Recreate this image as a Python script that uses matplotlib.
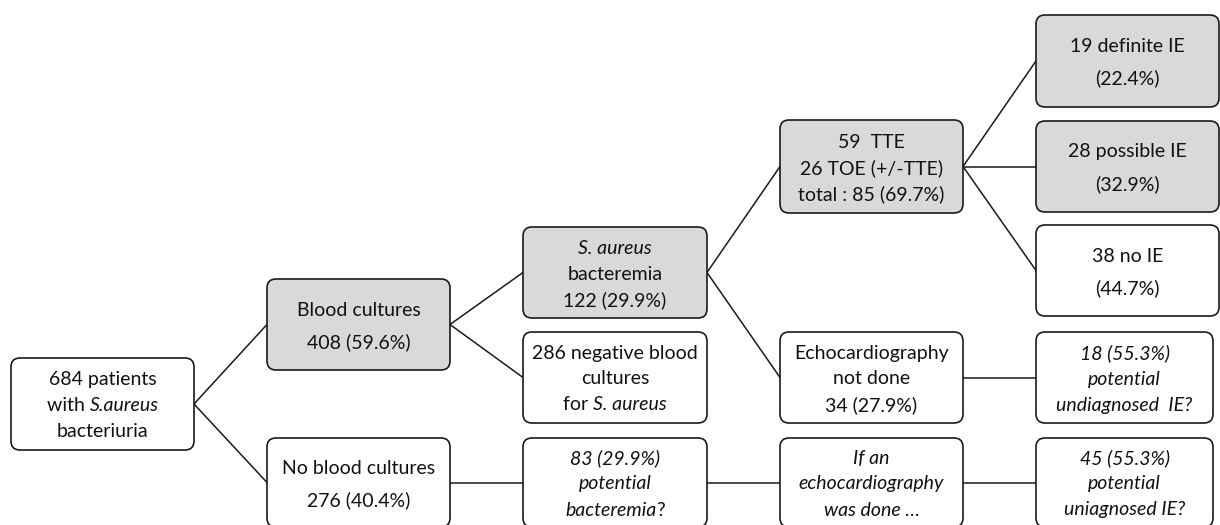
"""S. aureus bacteriuria patient flowchart (boxes + connecting lines)."""

import matplotlib

matplotlib.use("Agg")
import matplotlib.pyplot as plt
from matplotlib.patches import FancyBboxPatch

# Box texts; *...* marks italic pieces.
NODE_LINES = [
    ["684 patients", "with *S.aureus*", "bacteriuria"],
    ["Blood cultures", "408 (59.6%)"],
    ["No blood cultures", "276 (40.4%)"],
    ["*S. aureus*", "bacteremia", "122 (29.9%)"],
    ["286 negative blood", "cultures", "for *S. aureus*"],
    ["*83 (29.9%)*", "*potential*", "*bacteremia*?"],
    ["59  TTE", "26 TOE (+/-TTE)", "total : 85 (69.7%)"],
    ["Echocardiography", "not done", "34 (27.9%)"],
    ["*If an*", "*echocardiography*", "*was done …*"],
    ["19 definite IE", "(22.4%)"],
    ["28 possible IE", "(32.9%)"],
    ["38 no IE", "(44.7%)"],
    ["*18 (55.3%)*", "*potential*", "*undiagnosed  IE?*"],
    ["*45 (55.3%)*", "*potential*", "*uniagnosed IE?*"],
]
# Shaded boxes (gray fill).
NODE_SHADED = [False, True, False, True, False, False, True,
               False, False, True, True, False, False, False]
# Edges (from node, to node).
EDGES = [(0, 1), (0, 2), (1, 3), (1, 4), (2, 5), (3, 6), (3, 7),
         (5, 8), (6, 9), (6, 10), (6, 11), (7, 12), (8, 13)]

# Layout in pixels: (x0, y0, x1, y1), y downwards.
NODE_BOXES = [
    (11, 358, 194, 450),
    (267, 279, 450, 370),
    (267, 438, 450, 527),
    (523, 227, 707, 318),
    (523, 332, 707, 423),
    (523, 438, 707, 527),
    (780, 120, 963, 213),
    (780, 332, 963, 423),
    (780, 438, 963, 527),
    (1036, 15, 1219, 107),
    (1036, 121, 1219, 212),
    (1036, 225, 1219, 316),
    (1036, 332, 1213, 423),
    (1036, 438, 1213, 527),
]

FONT = "Lato"
FONT_SIZE = 14
TEXT_COLOR = "#111111"
EDGE_COLOR = "#1a1a1a"
FILL_GRAY = "#d9d9d9"


def split_styled(line):
    """'with *S.aureus*' -> [('with ', False), ('S.aureus', True)]"""
    parts = line.split("*")
    return [(p, i % 2 == 1) for i, p in enumerate(parts) if p]


def text_width(ax, renderer, s, italic):
    # 前后空格的宽度单独算。
    t = ax.text(0, 0, "x" + s + "x", fontsize=FONT_SIZE, family=FONT,
                style="italic" if italic else "normal")
    w = t.get_window_extent(renderer).width
    t.remove()
    t = ax.text(0, 0, "xx", fontsize=FONT_SIZE, family=FONT,
                style="italic" if italic else "normal")
    w -= t.get_window_extent(renderer).width
    t.remove()
    return w


def draw_line(ax, renderer, cx, cy, line):
    segs = split_styled(line)
    widths = [text_width(ax, renderer, s, it) for s, it in segs]
    x = cx - sum(widths) / 2
    for (s, it), w in zip(segs, widths):
        ax.text(x, cy, s, fontsize=FONT_SIZE, family=FONT, color=TEXT_COLOR,
                style="italic" if it else "normal", ha="left", va="center_baseline")
        x += w


def main():
    fig = plt.figure(figsize=(12.2, 5.25), dpi=100)
    ax = fig.add_axes([0, 0, 1, 1])
    ax.set_xlim(0, 1220)
    ax.set_ylim(525, 0)
    ax.axis("off")
    renderer = fig.canvas.get_renderer()

    # 连线：右中点 -> 左中点。
    for a, b in EDGES:
        xa = NODE_BOXES[a][2]
        ya = (NODE_BOXES[a][1] + NODE_BOXES[a][3]) / 2
        xb = NODE_BOXES[b][0]
        yb = (NODE_BOXES[b][1] + NODE_BOXES[b][3]) / 2
        ax.plot([xa, xb], [ya, yb], color=EDGE_COLOR, lw=1.1, zorder=1)

    for lines, shaded, (x0, y0, x1, y1) in zip(NODE_LINES, NODE_SHADED, NODE_BOXES):
        box = FancyBboxPatch((x0, y0), x1 - x0, y1 - y0,
                             boxstyle="round,pad=0,rounding_size=9",
                             facecolor=FILL_GRAY if shaded else "white",
                             edgecolor=EDGE_COLOR, lw=1.2, zorder=2)
        ax.add_patch(box)
        cx = (x0 + x1) / 2
        cy = (y0 + y1) / 2
        spacing = 32 if len(lines) == 2 else 26
        top = cy - spacing * (len(lines) - 1) / 2
        for i, line in enumerate(lines):
            draw_line(ax, renderer, cx, top + i * spacing, line)

    fig.savefig("out.png", dpi=100)
    plt.close(fig)


if __name__ == "__main__":
    main()
